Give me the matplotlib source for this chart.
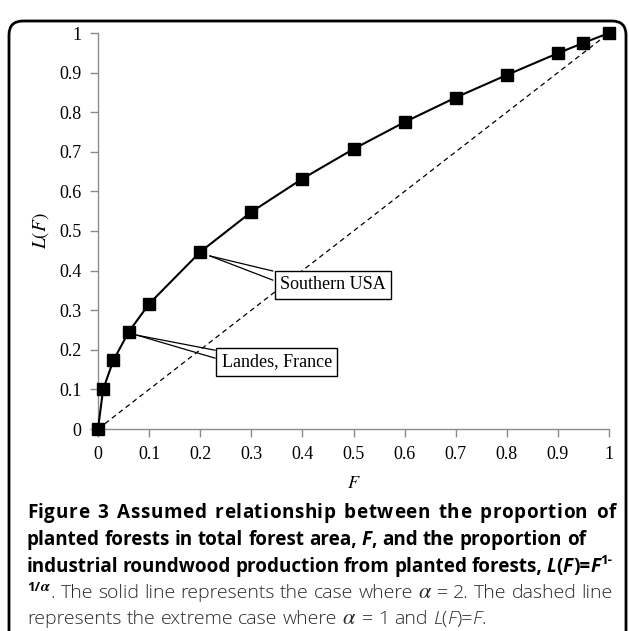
import matplotlib
matplotlib.use("Agg")
import matplotlib.pyplot as plt
from matplotlib.patches import FancyBboxPatch
from matplotlib.ticker import FormatStrFormatter, MultipleLocator

plt.rcParams['mathtext.fontset'] = 'stix'

# data
F = [0, 0.01, 0.03, 0.06, 0.1, 0.2, 0.3, 0.4, 0.5, 0.6, 0.7, 0.8, 0.9, 0.95, 1]
L = [0, 0.1, 0.173, 0.245, 0.316, 0.447, 0.548, 0.632, 0.707, 0.775, 0.837, 0.894, 0.949, 0.975, 1]
equal_line = [0, 1]
labels = ["Southern USA", "Landes, France"]

W, H = 629, 631
fig = plt.figure(figsize=(W / 100, H / 100), dpi=100)
ax = fig.add_axes([98 / W, 1 - 429 / H, 511 / W, 396 / H])

ax.plot(equal_line, equal_line, color='black', linestyle=(0, (4, 3)), linewidth=0.9)
ax.plot(F, L, color='black', linewidth=1.5, marker='s', markersize=8, clip_on=False, zorder=3)

ax.set_xlim(0, 1)
ax.set_ylim(0, 1)
ax.xaxis.set_major_locator(MultipleLocator(0.1))
ax.yaxis.set_major_locator(MultipleLocator(0.1))
ax.xaxis.set_major_formatter(FormatStrFormatter('%g'))
ax.yaxis.set_major_formatter(FormatStrFormatter('%g'))
for s in ['top', 'right']:
    ax.spines[s].set_visible(False)
for s in ['left', 'bottom']:
    ax.spines[s].set_color('#8c8c8c')
    ax.spines[s].set_linewidth(1)
ax.tick_params(direction='out', length=6, width=1, color='#8c8c8c', labelsize=13, pad=6)
for t in ax.get_xticklabels() + ax.get_yticklabels():
    t.set_fontfamily('Liberation Serif')

ax.set_ylabel('$L(F)$', fontsize=14, labelpad=6)
ax.set_xlabel('$F$', fontsize=13, labelpad=8)

# callout boxes (text centre, line ends on the box edge)
boxes = [
    dict(text=(0.46, 0.364), ends=[(0.342, 0.399), (0.342, 0.376)], start=(0.219, 0.437)),
    dict(text=(0.35, 0.170), ends=[(0.229, 0.199), (0.229, 0.179)], start=(0.076, 0.237)),
]
for name, b in zip(labels, boxes):
    for e in b['ends']:
        ax.plot([b['start'][0], e[0]], [b['start'][1], e[1]], color='black', linewidth=0.9, zorder=4)
    ax.text(b['text'][0], b['text'][1], name, ha='center', va='center', fontsize=13,
            family='Liberation Serif', zorder=5,
            bbox=dict(boxstyle='square,pad=0.3', facecolor='white', edgecolor='black', linewidth=1))

# rounded frame
frame = FancyBboxPatch((9, -30), 617, 640, boxstyle='round,pad=0,rounding_size=14',
                       transform=None, facecolor='none', edgecolor='black', linewidth=2)
fig.add_artist(frame)

# caption, drawn as runs of differently styled text
renderer = fig.canvas.get_renderer()
B = dict(family='Open Sans', weight='bold', size=13.6)
BI = dict(family='Open Sans', weight='bold', style='italic', size=13.6)
R = dict(family='Open Sans', weight='light', size=14, color='#2a2a2a')
RI = dict(family='Open Sans', weight='light', style='italic', size=14, color='#2a2a2a')
SUP = dict(family='Open Sans', weight='bold', size=9.5)
A = dict(size=16, color='#2a2a2a')

# (baseline y in pixels from top, right edge when justified, letter tracking, runs)
caption = [
    (518, 616, 0.55, [("Figure 3 Assumed relationship between the proportion of", B, 0)]),
    (545, None, 0, [("planted forests in total forest area, ", B, 0), ("F", BI, 0),
                    (", and the proportion of", B, 0)]),
    (572, 612, 0, [("industrial roundwood production from planted forests, ", B, 0), ("L", BI, 0),
                   ("(", B, 0), ("F", BI, 0), (")=", B, 0), ("F", BI, 0), ("1-", SUP, 8)]),
    (598, 613, 0, [("1/", SUP, 7), (r"$\boldsymbol{\alpha}$", dict(size=11), 7),
                   (". The solid line represents the case where ", R, 0), (r"$\alpha$", A, 0),
                   (" = 2. The dashed line", R, 0)]),
    (624, None, 0, [("represents the extreme case where ", R, 0), (r"$\alpha$", A, 0),
                    (" = 1 and ", R, 0), ("L", RI, 0), ("(", R, 0), ("F", RI, 0), (")=", R, 0),
                    ("F", RI, 0), (".", R, 0)]),
]


def width(txt, props):
    t = fig.text(0, 0, txt, transform=None, **props)
    w = t.get_window_extent(renderer).width
    t.remove()
    return w


def space(props):
    return width("a a", props) - width("aa", props)


for y, right, track, runs in caption:
    # split runs into words and gaps (or single letters when tracked)
    items = []
    for txt, props, rise in runs:
        parts = txt.split(" ")
        for i, p in enumerate(parts):
            if i > 0:
                items.append(("gap", space(props), props, rise))
            if p and track:
                items.extend(("word", ch, props, rise) for ch in p)
            elif p:
                items.append(("word", p, props, rise))
    natural = sum(it[1] if it[0] == "gap" else width(it[1], it[2]) + track for it in items)
    ngaps = sum(1 for it in items if it[0] == "gap")
    extra = (right - 27 - natural) / ngaps if right and ngaps else 0
    x = 27
    for kind, val, props, rise in items:
        if kind == "gap":
            x += val + extra
        else:
            t = fig.text(x, H - y + rise, val, transform=None, va='baseline',
                         ha='left', **props)
            x += t.get_window_extent(renderer).width + track

fig.savefig('out.png', dpi=100)
